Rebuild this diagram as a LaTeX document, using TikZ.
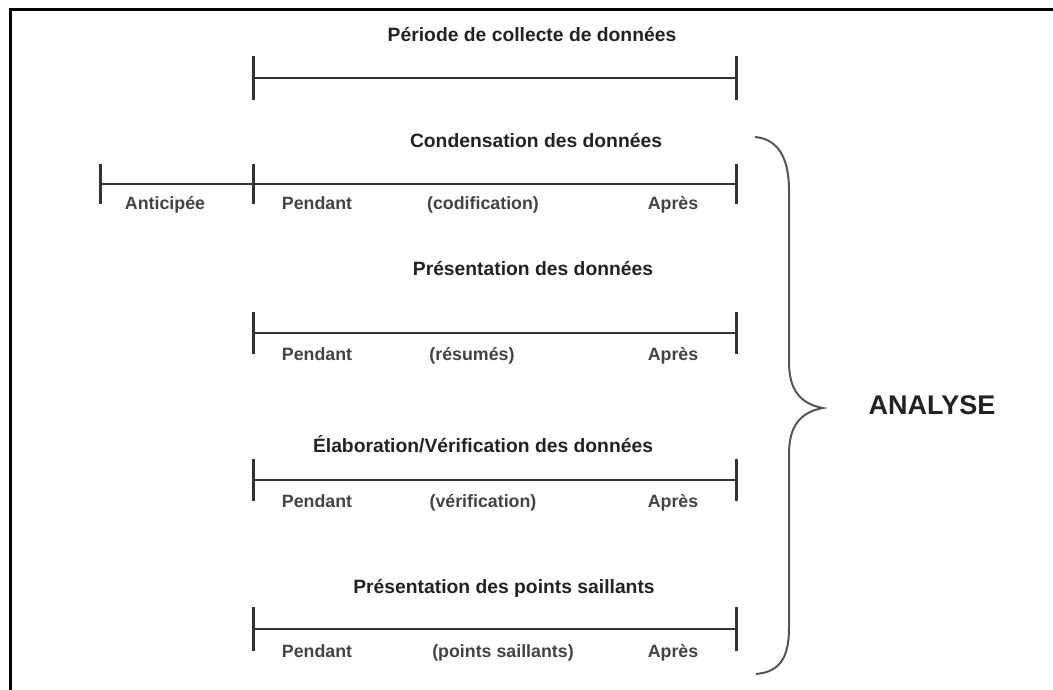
\documentclass[tikz,border=0pt]{standalone}
\usepackage{fontspec}
\setmainfont{Liberation Sans}
\definecolor{ink}{HTML}{222222}
\definecolor{rule}{HTML}{333333}
\definecolor{bracec}{HTML}{555555}
\begin{document}
\begin{tikzpicture}[x=1pt,y=-1pt,
  title/.style={anchor=base,inner sep=0pt,text=ink,font=\fontsize{19.3}{22}\selectfont\bfseries},
  lab/.style={anchor=base,inner sep=0pt,text=ink!85,font=\fontsize{17.8}{20}\selectfont\bfseries},
  big/.style={anchor=base,inner sep=0pt,text=ink,font=\fontsize{27}{30}\selectfont\bfseries},
  tline/.style={draw=rule,line width=2pt},
  tickmark/.style={draw=rule,line width=3pt},
  frame/.style={draw=black,line width=3pt},
  bracepath/.style={draw=bracec,line width=2pt}]
\useasboundingbox (0,0) rectangle (1053,690);
\draw[frame] (10,690) -- (10,10) -- (1053,10);

% Période
\node[title] (tP) at (532,42) {Période de collecte de données};
\coordinate (a1) at (253,78); \coordinate (b1) at (736,78);
\draw[tline] (a1) -- (b1);
\draw[tickmark] ([yshift=22pt]a1) -- ([yshift=-22pt]a1);
\draw[tickmark] ([yshift=22pt]b1) -- ([yshift=-22pt]b1);

% Condensation
\node[title] (tC) at (536,148) {Condensation des données};
\coordinate (z2) at (100,184); \coordinate (a2) at (253,184); \coordinate (b2) at (736,184);
\draw[tline] (z2) -- (a2) -- (b2);
\foreach \c in {z2,a2,b2} \draw[tickmark] ([yshift=20pt]\c) -- ([yshift=-20pt]\c);
\node[lab] (l2a) at (165,210) {Anticipée};
\node[lab] (l2b) at (317,210) {Pendant};
\node[lab] (l2c) at (483,210) {(codification)};
\node[lab] (l2d) at (673,210) {Après};

% Présentation des données
\node[title] (tR) at (533,275) {Présentation des données};
\coordinate (a3) at (253,333); \coordinate (b3) at (736,333);
\draw[tline] (a3) -- (b3);
\foreach \c in {a3,b3} \draw[tickmark] ([yshift=21pt]\c) -- ([yshift=-21pt]\c);
\node[lab] (l3b) at (317,360) {Pendant};
\node[lab] (l3c) at (472,360) {(résumés)};
\node[lab] (l3d) at (673,360) {Après};

% Élaboration
\node[title] (tE) at (483,452) {Élaboration/Vérification des données};
\coordinate (a4) at (253,480); \coordinate (b4) at (736,480);
\draw[tline] (a4) -- (b4);
\foreach \c in {a4,b4} \draw[tickmark] ([yshift=21pt]\c) -- ([yshift=-21pt]\c);
\node[lab] (l4b) at (317,507) {Pendant};
\node[lab] (l4c) at (483,507) {(vérification)};
\node[lab] (l4d) at (673,507) {Après};

% Points saillants
\node[title] (tS) at (504,593) {Présentation des points saillants};
\coordinate (a5) at (253,629); \coordinate (b5) at (736,629);
\draw[tline] (a5) -- (b5);
\foreach \c in {a5,b5} \draw[tickmark] ([yshift=22pt]\c) -- ([yshift=-22pt]\c);
\node[lab] (l5b) at (317,657) {Pendant};
\node[lab] (l5c) at (503,657) {(points saillants)};
\node[lab] (l5d) at (673,657) {Après};

% Brace
\draw[bracepath] (755,137) .. controls (778,139) and (789,158) .. (789,190)
  -- (789,362) .. controls (789,392) and (802,404) .. (823,408)
  .. controls (802,412) and (789,424) .. (789,454)
  -- (789,628) .. controls (789,660) and (778,672) .. (756,674);
\node[big] (an) at (932,414) {ANALYSE};
\end{tikzpicture}
\end{document}
